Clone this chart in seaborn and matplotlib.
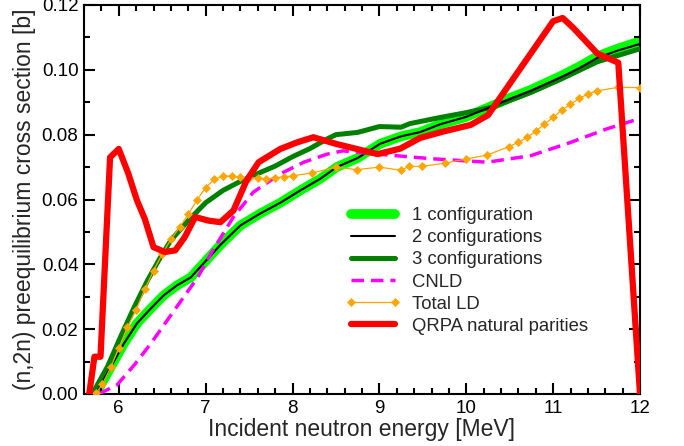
import matplotlib
matplotlib.use("Agg")
import matplotlib.pyplot as plt
import seaborn as sns
import numpy as np
from matplotlib.ticker import MultipleLocator, FormatStrFormatter

sns.set_theme(style="ticks", rc={
    'axes.edgecolor': 'black', 'axes.linewidth': 1.5, 'axes.axisbelow': False,
    'xtick.direction': 'in', 'ytick.direction': 'in',
    'xtick.top': True, 'xtick.bottom': True, 'ytick.left': True, 'ytick.right': True,
    'xtick.major.size': 8, 'ytick.major.size': 8,
    'xtick.minor.size': 4.5, 'ytick.minor.size': 4.5,
    'xtick.major.width': 1.5, 'ytick.major.width': 1.5,
    'xtick.minor.width': 1.5, 'ytick.minor.width': 1.5,
    'xtick.color': 'black', 'ytick.color': 'black',
})
plt.rcParams['font.family'] = ['Liberation Sans', 'DejaVu Sans']

# ---- data ----
x_cfg = [5.68, 5.75, 5.91, 6.06, 6.21, 6.37, 6.52, 6.67, 6.83, 7.0, 7.17, 7.4, 7.63,
         7.86, 8.09, 8.32, 8.51, 8.75, 9.01, 9.25, 9.47, 9.7, 10.0, 10.28, 10.5, 10.74,
         11.08, 11.3, 11.51, 11.75, 12.0]
y_cfg2 = [0.0, 0.0007, 0.0084, 0.0156, 0.0218, 0.0264, 0.0305, 0.0335, 0.036, 0.041,
          0.046, 0.052, 0.0557, 0.059, 0.0628, 0.0664, 0.070, 0.0728, 0.0772, 0.0795,
          0.0808, 0.0832, 0.0855, 0.0885, 0.091, 0.0935, 0.0976, 0.1005, 0.1037, 0.106, 0.108]
y_cfg1 = [0.0, 0.0007, 0.0084, 0.0156, 0.0218, 0.0264, 0.0305, 0.0335, 0.036, 0.041,
          0.046, 0.052, 0.0557, 0.059, 0.0628, 0.0664, 0.070, 0.0728, 0.0772, 0.0795,
          0.0808, 0.0832, 0.0855, 0.0887, 0.0913, 0.0938, 0.098, 0.101, 0.1042, 0.1066, 0.1088]

x_cfg3 = [5.69, 5.72, 5.87, 6.02, 6.18, 6.33, 6.48, 6.6, 6.8, 7.0, 7.2, 7.4, 7.6, 7.8,
          8.0, 8.2, 8.4, 8.5, 8.75, 9.0, 9.25, 9.35, 9.7, 10.0, 10.3, 10.74, 11.08,
          11.51, 12.0]
y_cfg3 = [0.0, 0.0012, 0.0084, 0.0176, 0.0269, 0.035, 0.0422, 0.0474, 0.0535, 0.059,
          0.0628, 0.0656, 0.068, 0.0703, 0.0732, 0.0757, 0.0787, 0.080, 0.0807, 0.0825,
          0.0823, 0.0834, 0.0853, 0.0868, 0.0885, 0.093, 0.097, 0.1025, 0.1065]

x_cnld = [5.77, 5.98, 6.18, 6.37, 6.56, 6.75, 6.91, 7.06, 7.32, 7.55, 7.86, 8.13, 8.4,
          8.58, 8.98, 9.59, 10.24, 10.74, 11.2, 11.62, 12.0]
y_cnld = [0.0, 0.0028, 0.009, 0.0156, 0.0228, 0.030, 0.036, 0.0433, 0.0546, 0.0623,
          0.0679, 0.0715, 0.074, 0.075, 0.074, 0.0726, 0.0715, 0.0735, 0.0776, 0.0818, 0.085]

x_tot = [5.74, 5.81, 5.91, 6.0, 6.1, 6.2, 6.3, 6.4, 6.5, 6.6, 6.7, 6.8, 6.9, 7.0, 7.1,
         7.2, 7.3, 7.4, 7.5, 7.6, 7.7, 7.8, 7.9, 8.0, 8.23, 8.5, 8.74, 9.0, 9.25, 9.34,
         9.49, 9.75, 10.0, 10.24, 10.49, 10.6, 10.7, 10.8, 10.9, 11.0, 11.1, 11.2, 11.3,
         11.4, 11.5, 11.75, 12.0]
y_tot = [0.0003, 0.003, 0.0083, 0.0141, 0.0206, 0.026, 0.0323, 0.038, 0.0432, 0.0477,
         0.0514, 0.0555, 0.0598, 0.0637, 0.0662, 0.0672, 0.0673, 0.0668, 0.0666, 0.0667,
         0.0663, 0.0667, 0.067, 0.0673, 0.0682, 0.07, 0.0692, 0.07, 0.069, 0.0702, 0.0702,
         0.0712, 0.0725, 0.0737, 0.0763, 0.0776, 0.0792, 0.081, 0.0833, 0.0853, 0.0876,
         0.0894, 0.0912, 0.0925, 0.0935, 0.0946, 0.0945]

x_qrpa = [5.66, 5.72, 5.79, 5.9, 6.0, 6.11, 6.21, 6.3, 6.4, 6.53, 6.65, 6.76, 6.88,
          7.03, 7.17, 7.32, 7.47, 7.61, 7.86, 8.05, 8.24, 8.51, 8.98, 9.24, 9.47, 9.74,
          10.05, 10.25, 11.0, 11.11, 11.23, 11.51, 11.75, 12.0]
y_qrpa = [0.0, 0.0115, 0.0115, 0.073, 0.0756, 0.068, 0.0597, 0.054, 0.0453, 0.0438,
          0.0443, 0.0484, 0.0546, 0.0535, 0.053, 0.0566, 0.0658, 0.0715, 0.0756, 0.0776,
          0.0792, 0.0771, 0.074, 0.0757, 0.079, 0.081, 0.083, 0.086, 0.115, 0.116, 0.113,
          0.105, 0.1022, 0.0]

labels = ["1 configuration", "2 configurations", "3 configurations", "CNLD",
          "Total LD", "QRPA natural parities"]

# ---- figure ----
fig = plt.figure(figsize=(6.84, 4.46), dpi=100)
ax = fig.add_axes([84/684, 1-394/446, (640-84)/684, (394-5)/446])

common = dict(ax=ax, sort=False, estimator=None)
sns.lineplot(x=x_cfg, y=y_cfg1, color="#00ff00", lw=7, label=labels[0], zorder=2, **common)
sns.lineplot(x=x_cfg, y=y_cfg2, color="black", lw=1.5, label=labels[1], zorder=3.5, **common)
sns.lineplot(x=x_cfg3, y=y_cfg3, color="#008000", lw=3.6, label=labels[2], zorder=3, **common)
sns.lineplot(x=x_cnld, y=y_cnld, color="#ff00ff", lw=2.5, label=labels[3], zorder=4, **common)
ax.lines[-1].set_dashes([3.6, 2.0])
sns.lineplot(x=x_tot, y=y_tot, color="#ffa500", lw=0.9, marker="D", markersize=4.5,
             markeredgecolor="#ffa500", markeredgewidth=0.5, label=labels[4], zorder=5,
             **common)
sns.lineplot(x=x_qrpa, y=y_qrpa, color="#ff0000", lw=4.5, label=labels[5], zorder=6, **common)

ax.set_xlim(5.6, 12.0)
ax.set_ylim(0.0, 0.12)

ax.set_xlabel("Incident neutron energy [MeV]", fontsize=16.5, labelpad=1)
ax.set_ylabel("(n,2n) preequilibrium cross section [b]", fontsize=16.5, labelpad=4)

leg = ax.legend(loc='upper left', bbox_to_anchor=((345-84)/556, (394-207)/389),
                frameon=False, fontsize=13.3, handlelength=3.0, handletextpad=0.65,
                labelspacing=0.28, borderpad=0, borderaxespad=0, numpoints=2)

ax.xaxis.set_major_locator(MultipleLocator(1))
ax.xaxis.set_minor_locator(MultipleLocator(0.2))
ax.yaxis.set_major_locator(MultipleLocator(0.02))
ax.yaxis.set_minor_locator(MultipleLocator(0.01))
ax.yaxis.set_major_formatter(FormatStrFormatter('%.2f'))
ax.set_axisbelow(False)
ax.tick_params(which='both', direction='in', top=True, right=True, color='black', width=1.5)
ax.tick_params(which='major', length=8, labelsize=13.5, pad=4)
ax.tick_params(which='minor', length=4.5)

fig.canvas.draw()
for axis in (ax.xaxis, ax.yaxis):
    for t in axis.get_major_ticks() + axis.get_minor_ticks():
        for ln in (t.tick1line, t.tick2line):
            ln.set_visible(True)
            ln.set_color('black')
            ln.set_markeredgecolor('black')
            ln.set_markeredgewidth(1.5)
            ln.set_zorder(10)

fig.savefig("out.png", dpi=100)
